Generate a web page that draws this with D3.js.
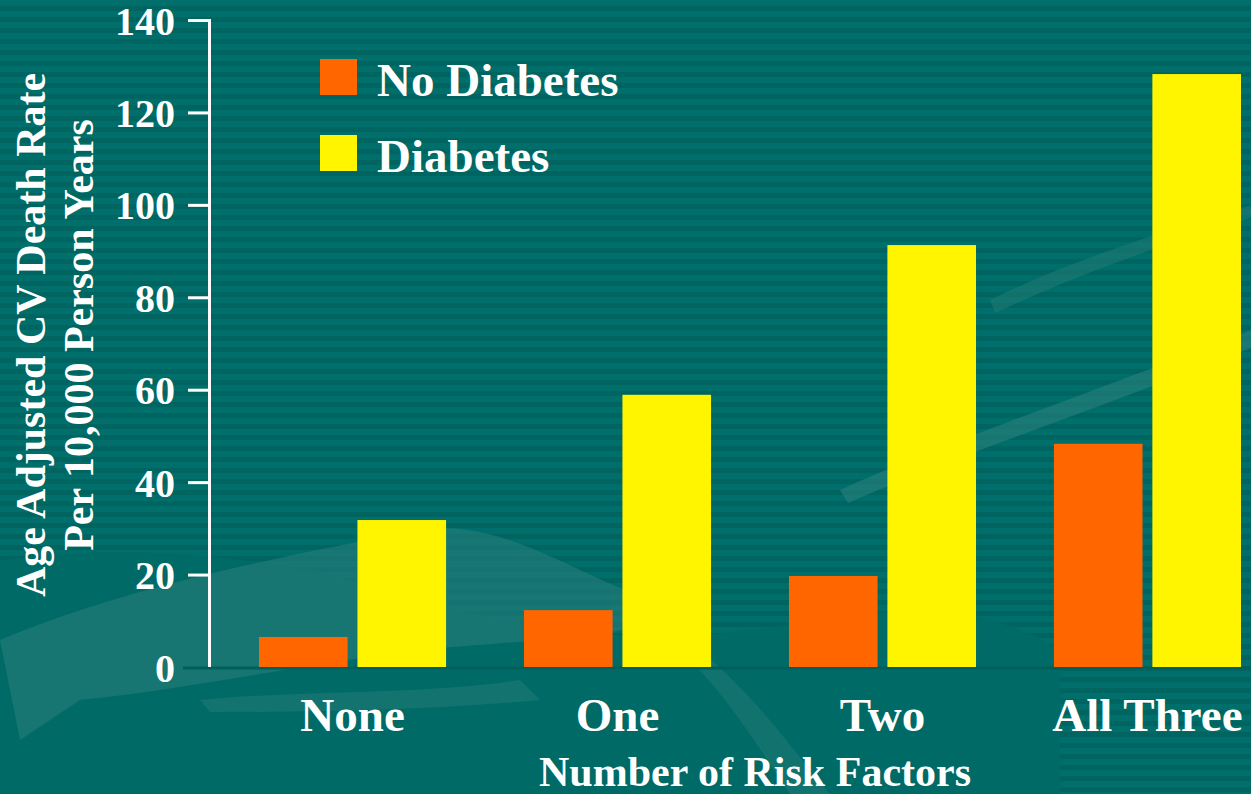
<!DOCTYPE html>
<html>
<head>
<meta charset="utf-8">
<script src="https://cdn.jsdelivr.net/npm/d3@7"></script>
<style>
	body { margin: 0; background: #006c68; }
	svg { display: block; }
	text { font-family: "Liberation Serif", "Times New Roman", serif; font-weight: bold; fill: #ffffff; }
</style>
</head>
<body>
<div id="chart"></div>
<script>
// data
const categories = ["None", "One", "Two", "All Three"];
const series = ["No Diabetes", "Diabetes"];
const noDiabetes = [6.5, 12.3, 19.7, 48.3];
const diabetes = [31.8, 58.9, 91.3, 128.3];
const yTicks = [0, 20, 40, 60, 80, 100, 120, 140];
const colors = ["#ff6600", "#fff500"];

const width = 1251, height = 794;

const svg = d3.select("#chart").append("svg")
	.attr("width", width)
	.attr("height", height);

// background: teal with thin darker stripes and a few soft swooshes
const defs = svg.append("defs");
const pat = defs.append("pattern")
	.attr("id", "stripes")
	.attr("patternUnits", "userSpaceOnUse")
	.attr("width", 20)
	.attr("height", 11);
pat.append("rect").attr("width", 20).attr("height", 11).attr("fill", "#006e6a");
pat.append("rect").attr("y", 6).attr("width", 20).attr("height", 5).attr("fill", "#006460");

svg.append("rect").attr("width", width).attr("height", height).attr("fill", "url(#stripes)");

const deco = svg.append("g").attr("class", "deco");
// plain lower-left area
deco.append("path")
	.attr("d", "M0,560 C150,540 300,560 420,600 C600,650 700,640 820,620 C900,610 980,600 1060,650 L1060,794 L0,794 Z")
	.attr("fill", "#006a66");
deco.append("path")
	.attr("d", "M0,640 C120,590 260,560 420,530 C520,515 600,600 700,610 C620,640 520,640 420,650 C300,665 180,690 80,700 L20,740 Z")
	.attr("fill", "#2a807b").attr("opacity", 0.55);
deco.append("path")
	.attr("d", "M200,700 C300,690 420,695 520,680 L540,700 C430,710 320,712 210,712 Z")
	.attr("fill", "#2a807b").attr("opacity", 0.45);
deco.append("path")
	.attr("d", "M700,650 C760,700 800,760 830,794 L790,794 C760,750 730,700 690,660 Z")
	.attr("fill", "#2a807b").attr("opacity", 0.4);
deco.append("path")
	.attr("d", "M840,490 C950,440 1100,390 1251,330 L1251,348 C1100,408 950,458 848,503 Z")
	.attr("fill", "#2a807b").attr("opacity", 0.6);
deco.append("path")
	.attr("d", "M990,300 C1060,265 1150,235 1251,205 L1251,218 C1150,248 1070,278 995,313 Z")
	.attr("fill", "#1f7a75").attr("opacity", 0.6);

// scales
const x0 = d3.scaleBand()
	.domain(categories)
	.range([219, 1281])
	.paddingInner(0.294)
	.paddingOuter(0.151);

const x1 = d3.scaleBand()
	.domain(series)
	.range([0, x0.bandwidth()])
	.paddingInner(0.1);

const y = d3.scaleLinear()
	.domain([0, 140])
	.range([667, 20]);

const rows = categories.map((c, i) => ({ cat: c, values: [noDiabetes[i], diabetes[i]] }));

// dark zero line
svg.append("line")
	.attr("x1", 183).attr("x2", width)
	.attr("y1", y(0) + 1).attr("y2", y(0) + 1)
	.attr("stroke", "#005f5b")
	.attr("stroke-width", 3);

// bars
const groups = svg.append("g").selectAll("g")
	.data(rows)
	.join("g")
	.attr("transform", d => `translate(${x0(d.cat)},0)`);

groups.selectAll("rect")
	.data(d => d.values.map((v, j) => ({ key: series[j], value: v, j: j })))
	.join("rect")
	.attr("x", d => x1(d.key))
	.attr("y", d => y(d.value))
	.attr("width", x1.bandwidth())
	.attr("height", d => y(0) - y(d.value))
	.attr("fill", d => colors[d.j]);

// y axis
const yAxis = svg.append("g")
	.attr("transform", "translate(209,0)")
	.call(d3.axisLeft(y).tickValues(yTicks).tickSize(21).tickPadding(13));
yAxis.select(".domain")
	.attr("d", `M0.5,${y(140) - 1}V${y(0)}`)
	.attr("stroke", "#ffffff")
	.attr("stroke-width", 3);
yAxis.selectAll(".tick line")
	.attr("stroke", "#ffffff")
	.attr("stroke-width", 3)
	.attr("display", d => d === 0 ? "none" : null);
yAxis.selectAll(".tick text")
	.attr("fill", "#ffffff")
	.style("font-family", "'Liberation Serif', serif")
	.style("font-weight", "bold")
	.style("font-size", "40px")
	.attr("dy", "0.35em");

// category labels
svg.append("g").selectAll("text")
	.data(categories)
	.join("text")
	.attr("x", d => x0(d) + x0.bandwidth() / 2)
	.attr("y", 731)
	.attr("text-anchor", "middle")
	.style("font-size", "47px")
	.text(d => d);

// axis titles
svg.append("text")
	.attr("x", 755)
	.attr("y", 786)
	.attr("text-anchor", "middle")
	.style("font-size", "42px")
	.text("Number of Risk Factors");

const yTitle = svg.append("g").attr("transform", "translate(0,335) rotate(-90)");
yTitle.append("text")
	.attr("x", 0).attr("y", 45)
	.attr("text-anchor", "middle")
	.style("font-size", "42px")
	.text("Age Adjusted CV Death Rate");
yTitle.append("text")
	.attr("x", 0).attr("y", 93)
	.attr("text-anchor", "middle")
	.style("font-size", "42px")
	.text("Per 10,000 Person Years");

// legend
const legend = svg.append("g").selectAll("g")
	.data(series)
	.join("g")
	.attr("transform", (d, i) => `translate(320,${59 + i * 76})`);
legend.append("rect")
	.attr("width", 37)
	.attr("height", 36)
	.attr("fill", (d, i) => colors[i]);
legend.append("text")
	.attr("x", 57)
	.attr("y", 37)
	.style("font-size", "47px")
	.text(d => d);
</script>
</body>
</html>
